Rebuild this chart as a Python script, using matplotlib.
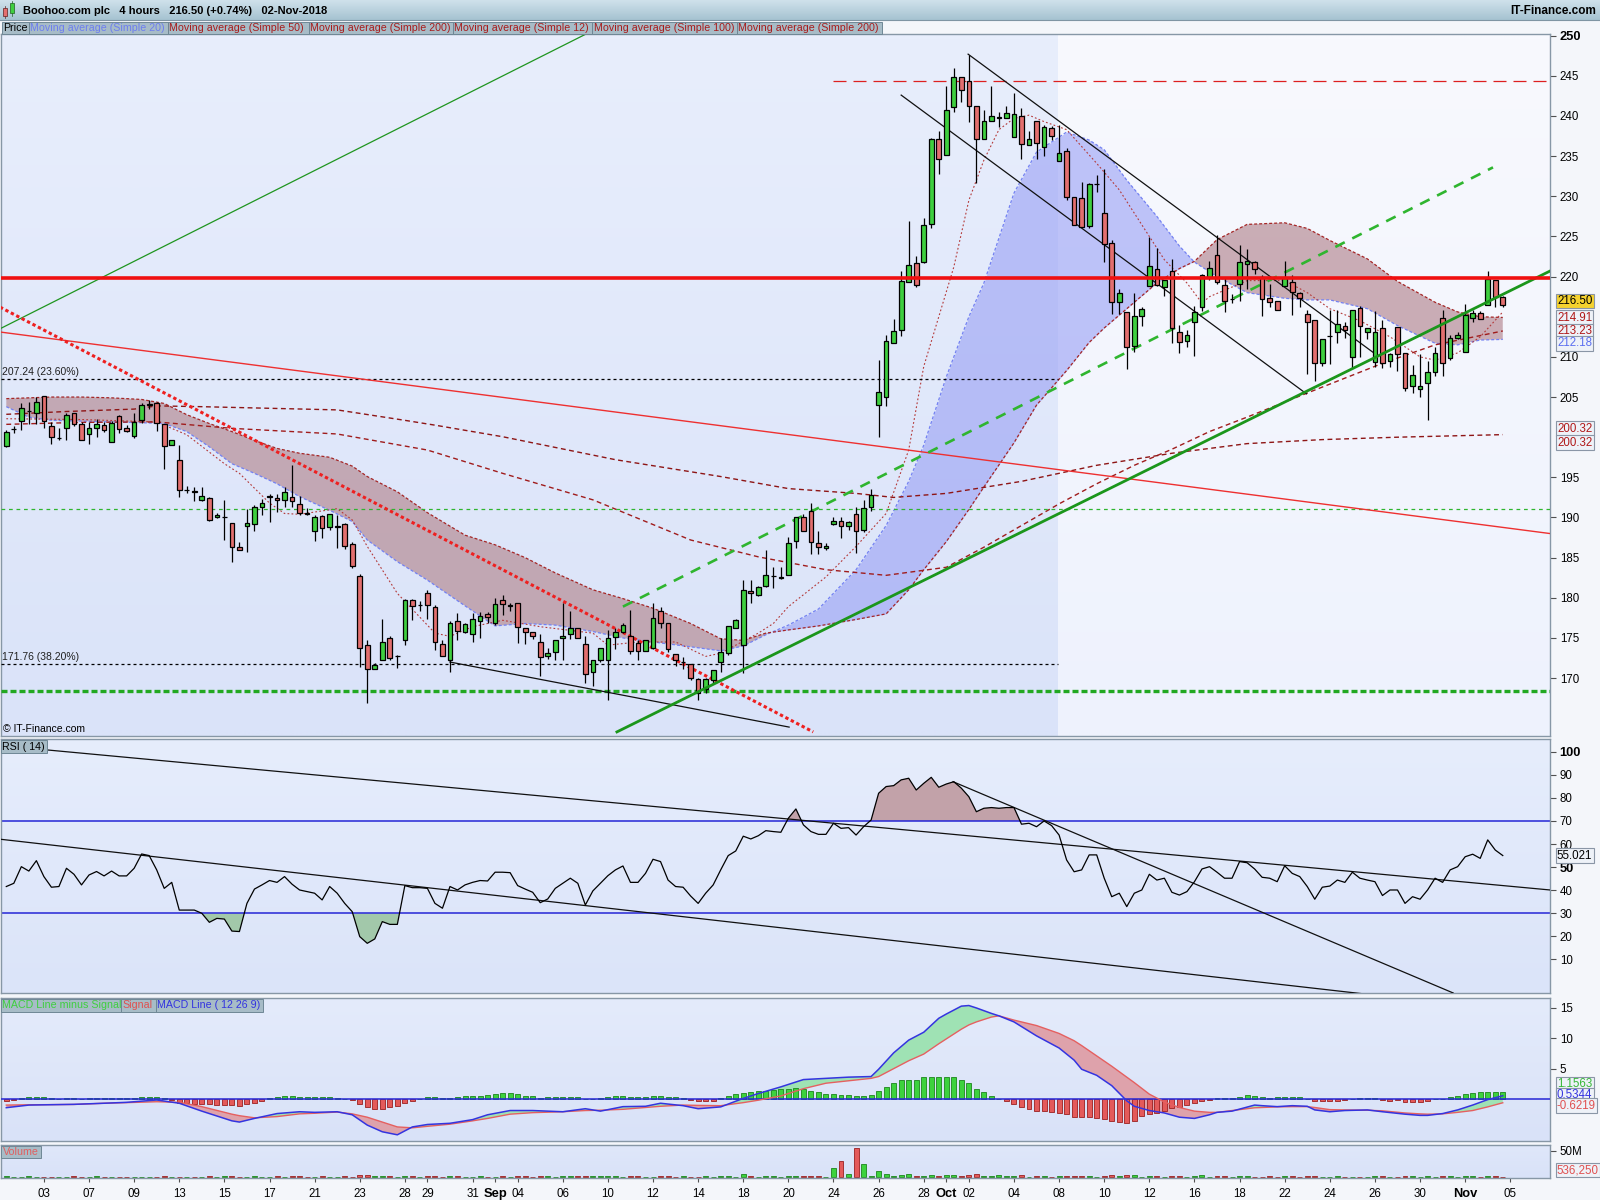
import numpy as np
import matplotlib
matplotlib.use('Agg')
import matplotlib.pyplot as plt
from matplotlib import font_manager
from matplotlib.colors import to_rgb
from matplotlib.patches import Rectangle
from matplotlib.transforms import blended_transform_factory

plt.rcParams['font.family'] = ['Liberation Sans', 'DejaVu Sans']
installed = {f.name for f in font_manager.fontManager.ttflist}
NARROW = 'Liberation Sans Narrow' if 'Liberation Sans Narrow' in installed else 'Liberation Sans'
NUM_SIZE = 9.5 if NARROW == 'Liberation Sans Narrow' else 8.3

# Boohoo.com plc, 4-hour candles from 1 Aug 2018 12:00 to 2 Nov 2018 16:00
opens = [198.9, 201.0, 202.05, 203.2, 203.05, 205.1, 201.4, 199.9, 201.1, 203.0,
         201.7, 200.4, 201.2, 201.5, 199.4, 202.6, 201.2, 200.1, 202.1, 204.0,
         204.3, 201.6, 199.0, 197.2, 193.4, 193.3, 192.2, 192.4, 190.0, 190.0,
         189.35, 186.3, 189.0, 189.2, 191.35, 192.6, 192.4, 192.2, 192.6, 191.7,
         190.6, 188.35, 190.2, 188.8, 188.85, 189.2, 186.7, 182.7, 174.1, 171.1,
         172.2, 174.95, 172.75, 174.8, 179.7, 179.1, 180.55, 178.8, 174.25, 172.3,
         177.15, 175.8, 175.5, 177.1, 178.0, 176.8, 179.7, 179.0, 179.4, 176.2,
         175.8, 174.5, 172.8, 173.2, 175.0, 175.45, 176.2, 174.2, 170.7, 172.2,
         172.3, 175.1, 175.8, 175.2, 174.4, 173.4, 173.7, 178.3, 176.9, 173.0,
         172.0, 171.7, 169.85, 168.6, 169.8, 172.0, 173.1, 176.3, 174.1, 180.85,
         180.4, 181.5, 182.7, 182.5, 182.9, 187.1, 190.1, 190.85, 186.8, 186.2,
         189.15, 189.6, 188.9, 190.4, 188.4, 191.3, 204.0, 205.05, 211.7, 213.4,
         219.3, 221.65, 221.86, 226.5, 237.1, 235.15, 241.1, 244.9, 244.3, 241.3,
         237.1, 239.38, 239.8, 239.8, 237.35, 240.04, 236.4, 239.4, 236.1, 238.5,
         234.4, 235.6, 229.9, 229.75, 226.3, 231.5, 227.96, 224.2, 216.8, 215.55,
         211.4, 215.1, 218.83, 220.9, 218.75, 220.7, 213.14, 212.0, 214.4, 216.17,
         220.0, 222.7, 219.0, 217.2, 219.04, 221.53, 221.86, 219.9, 217.3, 217.0,
         218.8, 219.37, 217.9, 215.4, 214.6, 209.3, 212.6, 213.1, 213.8, 209.95,
         216.05, 213.15, 209.33, 213.56, 209.5, 213.77, 210.45, 206.38, 206.0, 206.7,
         208.16, 214.8, 209.82, 212.3, 210.65, 214.8, 215.43, 216.46, 219.58, 217.42]
highs = [200.9, 201.4, 204.3, 204.4, 205.0, 205.1, 201.9, 201.1, 203.0, 203.05,
         201.9, 201.9, 202.3, 201.9, 202.0, 202.8, 201.5, 203.0, 204.2, 204.6,
         204.4, 201.7, 199.7, 199.0, 193.95, 193.8, 193.8, 192.5, 190.5, 192.2,
         189.35, 186.9, 191.0, 191.55, 192.25, 192.9, 192.9, 193.75, 196.5, 192.7,
         191.2, 190.3, 190.3, 190.4, 190.3, 189.35, 187.0, 183.0, 174.7, 171.9,
         177.3, 175.2, 172.9, 179.8, 179.8, 179.6, 181.0, 179.1, 174.7, 177.15,
         178.15, 176.9, 178.15, 178.25, 178.25, 180.0, 180.35, 179.3, 179.4, 176.2,
         175.8, 175.5, 173.8, 174.7, 179.4, 178.35, 176.2, 175.3, 172.3, 173.7,
         176.0, 176.2, 176.8, 178.5, 174.75, 174.7, 179.4, 178.9, 176.9, 173.0,
         172.6, 171.7, 170.0, 170.0, 171.0, 174.95, 176.5, 177.3, 182.2, 182.2,
         181.5, 185.9, 183.8, 183.8, 187.6, 190.1, 190.4, 191.8, 188.3, 186.8,
         190.1, 190.0, 189.6, 191.35, 192.2, 193.5, 209.6, 212.7, 214.68, 220.7,
         226.9, 222.6, 227.26, 237.2, 238.1, 243.7, 245.94, 244.9, 247.6, 241.3,
         240.7, 243.7, 240.5, 241.25, 242.9, 240.96, 238.1, 239.4, 238.9, 238.7,
         238.9, 235.97, 229.9, 231.8, 231.6, 232.65, 233.36, 224.56, 218.5, 215.55,
         217.9, 216.17, 224.9, 223.5, 219.6, 222.15, 213.97, 213.35, 216.3, 220.3,
         222.0, 225.2, 219.8, 217.8, 223.94, 223.4, 221.98, 220.2, 219.1, 217.0,
         221.9, 220.2, 218.1, 215.9, 214.6, 212.2, 215.9, 215.9, 214.4, 215.84,
         216.34, 213.56, 215.76, 214.6, 210.5, 213.77, 210.45, 209.0, 210.36, 209.5,
         211.2, 215.9, 212.73, 213.15, 216.6, 215.84, 215.76, 220.7, 219.58, 217.6]
lows = [198.8, 200.5, 200.9, 201.6, 201.7, 201.1, 199.2, 199.7, 199.7, 201.4,
        199.6, 199.2, 200.0, 200.6, 199.4, 200.5, 200.6, 199.9, 201.8, 203.5,
        200.8, 196.0, 199.0, 192.5, 193.1, 192.0, 192.0, 189.6, 189.9, 187.2,
        184.5, 185.9, 185.7, 188.35, 190.3, 189.5, 190.7, 191.35, 191.35, 190.3,
        190.3, 187.1, 187.4, 188.4, 186.2, 186.1, 183.7, 171.4, 166.85, 171.1,
        172.2, 172.25, 171.3, 174.1, 177.2, 178.4, 177.4, 173.5, 172.7, 170.8,
        174.8, 175.65, 174.5, 174.95, 176.8, 176.6, 177.9, 178.3, 174.4, 174.3,
        174.9, 170.3, 172.4, 172.3, 172.3, 174.9, 174.95, 169.4, 169.0, 172.05,
        167.3, 173.6, 175.6, 173.0, 172.3, 173.4, 173.6, 176.2, 173.2, 171.5,
        171.1, 169.8, 167.3, 168.2, 169.4, 170.8, 172.9, 176.3, 170.6, 179.4,
        180.2, 181.4, 181.2, 182.3, 182.9, 186.2, 188.3, 185.4, 185.4, 185.95,
        189.1, 187.5, 188.4, 185.6, 188.2, 190.85, 200.0, 203.9, 211.7, 212.6,
        219.3, 218.7, 221.65, 226.1, 232.8, 235.1, 240.5, 241.7, 239.2, 231.6,
        237.1, 239.38, 238.6, 239.8, 237.35, 234.6, 236.4, 234.7, 235.0, 237.0,
        234.4, 229.5, 226.4, 226.2, 226.0, 230.5, 221.86, 215.4, 215.4, 208.45,
        210.65, 213.85, 218.83, 218.8, 217.6, 211.77, 210.5, 211.27, 210.1, 215.76,
        219.6, 219.08, 215.6, 216.7, 217.0, 218.5, 220.3, 215.1, 216.2, 215.9,
        218.8, 215.2, 216.2, 207.9, 207.04, 208.9, 209.1, 211.7, 212.4, 208.5,
        210.03, 212.2, 208.7, 208.6, 208.7, 208.2, 205.8, 205.55, 205.05, 202.2,
        207.6, 207.6, 209.6, 212.2, 210.65, 214.4, 214.7, 216.46, 216.17, 216.26]
closes = [200.7, 201.05, 203.6, 203.3, 204.4, 202.0, 200.0, 199.95, 202.8, 201.6,
          199.7, 201.2, 201.6, 200.9, 201.8, 201.0, 200.8, 201.85, 204.0, 204.1,
          201.8, 198.9, 199.7, 193.4, 193.45, 193.2, 192.7, 189.7, 190.3, 190.05,
          186.3, 185.9, 189.3, 191.35, 191.75, 192.65, 192.2, 193.2, 192.0, 190.6,
          190.4, 190.1, 188.65, 190.4, 188.9, 186.4, 184.0, 173.7, 171.1, 171.6,
          174.5, 172.45, 172.8, 179.7, 178.97, 179.15, 179.1, 174.5, 172.75, 176.9,
          175.9, 176.7, 177.3, 177.7, 177.65, 179.2, 179.2, 179.05, 176.4, 175.8,
          175.2, 172.6, 173.1, 174.7, 175.2, 176.2, 174.95, 170.5, 172.3, 173.7,
          174.95, 175.8, 176.6, 173.4, 173.4, 174.7, 177.45, 176.9, 173.6, 172.25,
          172.05, 170.0, 168.2, 169.85, 171.0, 173.3, 176.5, 177.2, 181.0, 180.55,
          181.3, 182.8, 182.75, 182.6, 186.8, 190.1, 188.3, 186.9, 186.3, 186.45,
          189.6, 188.9, 189.4, 188.3, 191.15, 192.8, 205.6, 211.98, 213.2, 219.45,
          221.45, 218.95, 226.4, 237.1, 234.6, 240.7, 244.8, 243.2, 241.25, 237.1,
          239.38, 240.04, 239.85, 240.33, 240.2, 236.5, 237.1, 236.6, 238.6, 237.5,
          235.35, 229.96, 226.4, 226.2, 231.5, 231.55, 224.0, 216.8, 217.9, 211.2,
          215.1, 215.96, 221.36, 218.95, 219.6, 213.56, 211.8, 212.7, 215.64, 220.2,
          221.03, 219.37, 217.0, 217.25, 221.86, 221.9, 220.9, 217.17, 216.8, 215.9,
          219.8, 218.12, 217.3, 214.3, 209.3, 212.2, 212.65, 214.1, 213.3, 215.84,
          213.9, 213.56, 213.15, 209.2, 210.3, 210.3, 206.1, 207.75, 206.38, 208.16,
          210.45, 209.2, 212.3, 212.73, 215.22, 215.43, 214.7, 219.7, 217.42, 216.5]

# volume in millions of shares
volume = [3.0, 0.5, 0.5, 3.0, 0.5, 0.5, 0.5, 0.5, 0.5, 3.0,
          0.5, 0.5, 3.0, 0.5, 0.5, 0.5, 0.5, 0.5, 0.5, 0.5,
          0.5, 3.0, 0.5, 0.5, 0.5, 0.5, 0.5, 3.0, 0.5, 3.0,
          3.0, 0.5, 0.5, 3.0, 0.5, 0.5, 3.0, 0.5, 3.0, 3.0,
          0.5, 0.5, 3.0, 0.5, 0.5, 3.0, 0.5, 4.4, 4.4, 3.0,
          3.0, 3.0, 0.5, 3.0, 3.0, 0.5, 3.0, 3.0, 0.5, 3.0,
          3.0, 0.5, 0.5, 3.0, 0.5, 0.5, 3.0, 0.5, 3.0, 3.0,
          0.5, 3.0, 3.0, 0.5, 3.0, 3.0, 3.0, 3.0, 3.0, 3.0,
          3.0, 3.0, 0.5, 3.0, 3.0, 0.5, 0.5, 3.0, 3.0, 0.5,
          3.0, 0.5, 0.5, 3.0, 0.5, 3.0, 3.0, 0.5, 6.3, 3.0,
          0.5, 3.0, 3.0, 0.5, 3.0, 3.0, 3.0, 3.0, 3.0, 0.5,
          17.5, 30.0, 6.3, 56.0, 25.0, 3.0, 11.0, 6.3, 3.0, 4.4,
          6.3, 3.0, 3.1, 4.4, 3.0, 4.4, 4.4, 3.0, 3.5, 6.3,
          3.0, 3.0, 3.5, 3.0, 3.0, 3.5, 0.5, 3.0, 3.0, 0.5,
          3.0, 3.0, 3.0, 3.0, 3.0, 0.5, 3.0, 3.5, 3.0, 3.5,
          3.5, 0.5, 3.0, 3.0, 0.5, 3.0, 3.0, 0.5, 3.0, 3.5,
          0.5, 3.0, 3.0, 0.5, 3.0, 3.0, 0.5, 0.5, 3.0, 0.5,
          3.0, 3.0, 0.5, 3.0, 3.0, 0.5, 0.5, 3.0, 0.5, 0.5,
          0.5, 0.5, 3.0, 3.0, 0.5, 0.5, 3.0, 3.0, 0.5, 3.0,
          0.5, 3.0, 3.0, 0.5, 3.0, 3.0, 0.5, 3.0, 3.0, 0.54]

# moving averages, sampled at candle numbers
band_idx = [0, 3, 6, 10, 14, 18, 21, 24, 27, 30, 33, 36, 39, 43, 46, 48, 52, 56, 61, 65,
            69, 73, 78, 82, 86, 91, 95, 98, 101, 104, 108, 113, 117, 120, 122, 125, 128, 130, 134, 137,
            141, 144, 146, 149, 153, 156, 158, 161, 165, 170, 173, 176, 181, 185, 190, 193, 196, 199]
ma20 = [203.8, 202.5, 202.1, 202.0, 201.9, 201.8, 201.7, 200.7, 198.8, 196.7,
        195.5, 194.2, 192.6, 190.9, 189.5, 187.2, 184.5, 182.2, 179.0, 176.5,
        176.8, 176.6, 175.8, 175.0, 174.5, 173.9, 173.4, 174.0, 175.4, 176.6,
        178.6, 183.5, 189.0, 194.5, 199.0, 207.5, 215.0, 219.2, 230.4, 235.5,
        238.0, 237.0, 235.8, 232.0, 227.5, 223.8, 221.8, 220.0, 218.0, 217.3,
        217.1, 217.1, 216.0, 213.9, 211.7, 211.5, 212.1, 212.18]
ma50 = [204.8, 204.9, 205.0, 205.0, 204.9, 204.7, 204.2, 202.8, 201.7, 200.7,
        199.6, 198.6, 198.0, 197.5, 196.4, 195.1, 193.2, 190.6, 187.8, 186.6,
        185.0, 183.1, 181.0, 179.9, 178.7, 176.8, 174.9, 174.7, 175.6, 176.0,
        176.5, 177.3, 178.0, 181.0, 183.5, 187.0, 191.0, 193.8, 199.3, 204.0,
        208.3, 211.8, 213.6, 216.0, 219.2, 221.0, 221.9, 224.6, 226.5, 226.7,
        226.0, 224.5, 222.2, 219.4, 216.8, 215.6, 215.0, 214.91]

ma12_idx = [0, 10, 20, 24, 29, 31, 35, 37, 39, 44, 46, 48, 52, 57, 59, 62, 66, 71, 78, 80,
            84, 89, 93, 95, 100, 102, 104, 109, 113, 117, 120, 122, 126, 128, 130, 132, 134, 136, 138, 141,
            143, 145, 148, 150, 152, 154, 157, 159, 160, 165, 170, 173, 176, 180, 184, 188, 190, 193, 196, 199]
ma12 = [202.3, 202.2, 201.9, 200.3, 196.7, 195.5, 191.8, 190.5, 190.4, 191.1,
        189.7, 186.4, 180.55, 175.6, 175.2, 176.4, 177.2, 176.4, 175.6, 174.1,
        174.5, 174.5, 172.7, 173.1, 175.6, 176.8, 178.9, 182.6, 186.4, 190.5,
        198.4, 208.8, 221.2, 229.5, 234.5, 238.3, 239.7, 240.1, 239.3, 238.3,
        236.2, 234.1, 230.8, 227.9, 225.0, 222.1, 219.2, 216.7, 217.5, 219.5,
        219.5, 218.0, 216.0, 214.5, 212.5, 210.0, 209.6, 210.5, 212.5, 215.6]

ma100_idx = [0, 10, 20, 30, 44, 56, 66, 78, 91, 100, 109, 117, 125, 130, 135, 140, 145, 150, 155, 160,
             165, 173, 183, 190, 199]
ma100 = [201.6, 201.85, 201.9, 201.1, 200.4, 198.4, 195.5, 192.2, 187.2, 185.1,
         183.5, 182.8, 183.8, 186.3, 189.0, 191.7, 194.2, 196.5, 198.5, 200.7,
         202.5, 205.5, 209.2, 211.5, 213.23]

ma200_idx = [0, 8, 17, 20, 26, 44, 53, 57, 66, 81, 95, 104, 113, 118, 125, 135, 145, 155, 165, 175,
             185, 199]
ma200 = [202.85, 203.2, 203.5, 203.9, 203.8, 203.4, 202.1, 201.5, 200.06, 197.2,
         195.1, 193.6, 193.0, 192.5, 193.0, 194.5, 196.5, 198.0, 199.2, 199.7,
         200.0, 200.32]

# RSI(14), one value per candle
rsi = [41.6, 43.0, 50.2, 48.3, 52.8, 45.9, 41.3, 41.6, 49.5, 46.9,
       42.3, 46.6, 48.1, 46.2, 48.3, 46.2, 46.2, 49.5, 55.7, 55.0,
       48.8, 40.8, 43.4, 31.4, 31.4, 31.4, 30.0, 26.1, 27.8, 27.5,
       22.3, 22.1, 34.3, 40.5, 42.3, 44.2, 43.4, 45.9, 42.6, 40.1,
       39.4, 38.7, 35.8, 41.6, 38.7, 34.3, 30.7, 19.9, 17.0, 18.9,
       26.4, 25.2, 25.2, 42.0, 41.1, 41.1, 40.8, 34.3, 32.2, 41.6,
       40.1, 42.3, 43.4, 44.2, 44.0, 47.8, 47.8, 47.6, 42.0, 40.5,
       39.1, 34.6, 36.2, 40.8, 43.0, 45.2, 43.0, 33.6, 39.7, 43.0,
       46.3, 48.8, 50.5, 43.4, 43.4, 47.3, 53.4, 52.4, 44.4, 41.6,
       41.3, 37.5, 34.3, 38.7, 42.3, 48.8, 55.0, 57.0, 63.4, 62.2,
       63.6, 65.8, 65.4, 65.1, 71.2, 75.2, 68.3, 65.4, 64.2, 64.2,
       69.0, 66.8, 67.1, 63.9, 67.5, 70.4, 82.0, 84.9, 85.3, 87.8,
       88.5, 83.4, 86.3, 88.9, 84.6, 86.0, 87.0, 84.2, 80.5, 74.0,
       75.5, 75.8, 75.5, 75.8, 75.8, 68.6, 69.0, 67.5, 70.0, 68.0,
       63.9, 53.1, 48.0, 48.8, 55.3, 55.3, 45.2, 37.2, 38.7, 32.9,
       38.7, 40.1, 46.9, 44.4, 45.2, 39.1, 37.9, 39.4, 43.7, 49.2,
       50.2, 47.8, 45.2, 45.2, 52.4, 51.9, 49.2, 45.6, 45.2, 43.7,
       50.6, 47.3, 45.9, 41.6, 36.1, 41.3, 41.8, 44.4, 43.4, 47.8,
       45.2, 44.4, 43.7, 37.7, 40.1, 40.1, 34.3, 37.2, 36.1, 40.1,
       45.2, 43.4, 48.8, 50.2, 54.5, 55.6, 53.8, 61.8, 57.4, 55.021]

# MACD (12 26 9): line and signal sampled at candle numbers, histogram per candle
macd_idx = [0, 3, 9, 13, 16, 20, 23, 26, 30, 31, 33, 36, 39, 41, 44, 46, 48, 50, 52, 54,
            56, 59, 62, 64, 67, 70, 74, 77, 79, 82, 85, 87, 90, 92, 95, 98, 100, 103, 106, 109,
            112, 115, 116, 118, 120, 122, 124, 125, 127, 128, 129, 131, 132, 134, 137, 140, 142, 143, 145, 147,
            149, 150, 152, 154, 156, 158, 160, 161, 163, 166, 167, 169, 171, 173, 174, 176, 178, 181, 183, 186,
            188, 189, 191, 193, 195, 197, 199]
macd_line = [-1.43, -1.0, -0.88, -0.7, -0.55, -0.16, -0.7, -2.0, -3.6, -3.8,
             -3.2, -2.4, -2.1, -2.2, -2.1, -2.6, -4.3, -5.4, -5.9, -4.6,
             -4.2, -4.0, -3.4, -2.6, -1.9, -1.9, -2.1, -1.6, -2.0, -1.26,
             -1.2, -0.7, -1.1, -1.6, -1.3, 0.1, 0.9, 2.0, 3.2, 3.4,
             3.6, 3.7, 4.9, 7.6, 9.7, 11.0, 13.3, 14.0, 15.3, 15.4,
             15.0, 14.1, 13.7, 12.7, 10.4, 8.4, 6.4, 4.9, 3.9, 2.2,
             -0.3, -1.2, -1.9, -2.3, -3.0, -3.2, -2.6, -2.2, -2.0, -1.0,
             -1.1, -1.26, -1.1, -1.2, -1.8, -2.1, -1.9, -1.8, -2.1, -2.5,
             -2.7, -2.7, -2.4, -1.8, -1.0, -0.1, 0.5344]
macd_signal = [-1.0, -0.95, -0.9, -0.7, -0.6, -0.45, -0.55, -1.26, -2.5, -2.75,
               -3.1, -2.9, -2.45, -2.35, -2.15, -2.45, -3.0, -3.8, -4.6, -4.75,
               -4.5, -4.15, -3.6, -3.2, -2.5, -2.25, -2.1, -1.9, -1.85, -1.7,
               -1.4, -1.2, -1.0, -1.05, -1.1, -0.6, -0.2, 0.5, 1.7, 2.6,
               3.0, 3.4, 3.7, 5.0, 6.3, 7.4, 9.1, 9.9, 11.5, 12.2,
               12.7, 13.5, 13.7, 13.0, 12.1, 10.8, 9.6, 8.8, 7.1, 5.4,
               3.6, 2.7, 0.8, -0.5, -1.4, -2.0, -2.2, -2.2, -1.9, -1.45,
               -1.4, -1.3, -1.26, -1.26, -1.4, -1.75, -1.8, -1.85, -1.95, -2.3,
               -2.45, -2.5, -2.45, -2.2, -1.9, -1.3, -0.6219]
macd_hist = [-0.3, -0.2, 0.1, 0.3, 0.35, 0.3, 0.15, 0.05, 0.15, 0.15,
             0.05, 0.15, 0.15, 0.15, 0.15, 0.15, 0.15, 0.2, 0.4, 0.4,
             0.25, 0.1, -0.15, -0.6, -0.7, -0.8, -0.9, -0.9, -1.0, -1.0,
             -1.0, -1.1, -0.8, -0.6, -0.3, 0.1, 0.3, 0.45, 0.45, 0.35,
             0.3, 0.3, 0.3, 0.25, 0.2, 0.05, -0.2, -0.8, -1.3, -1.6,
             -1.6, -1.4, -1.2, -0.7, -0.25, 0.0, 0.3, 0.25, 0.15, 0.2,
             0.3, 0.45, 0.5, 0.55, 0.6, 0.8, 1.0, 1.05, 0.8, 0.55,
             0.45, 0.2, 0.25, 0.25, 0.3, 0.3, 0.3, 0.0, 0.05, 0.2,
             0.35, 0.45, 0.45, 0.4, 0.35, 0.35, 0.5, 0.5, 0.4, 0.3,
             0.1, -0.2, -0.3, -0.3, -0.3, 0.1, 0.5, 0.8, 1.0, 1.1,
             1.3, 1.4, 1.5, 1.6, 1.7, 1.8, 1.6, 1.3, 1.1, 0.8,
             0.8, 0.7, 0.6, 0.55, 0.55, 0.6, 1.3, 2.0, 2.6, 3.1,
             3.1, 3.1, 3.6, 3.6, 3.6, 3.6, 3.6, 3.2, 2.6, 1.7,
             1.2, 0.5, 0.0, -0.3, -0.8, -1.4, -1.7, -1.9, -2.0, -2.1,
             -2.3, -2.5, -3.0, -3.0, -3.0, -3.1, -3.3, -3.7, -3.8, -3.9,
             -3.7, -2.8, -2.5, -2.3, -2.0, -1.5, -1.3, -1.0, -0.7, -0.4,
             -0.1, 0.2, 0.2, 0.2, 0.4, 0.6, 0.5, 0.3, 0.15, 0.25,
             0.3, 0.3, 0.3, 0.0, -0.4, -0.4, -0.4, -0.3, -0.15, 0.0,
             0.15, 0.15, 0.1, -0.2, -0.25, -0.2, -0.45, -0.45, -0.45, -0.3,
             0.0, 0.0, 0.35, 0.55, 0.8, 1.0, 1.1, 1.2, 1.2, 1.1563]

# date axis: trading-day number (0 = 1 Aug) of each label
date_labels = ['03', '07', '09', '13', '15', '17', '21', '23', '28', '29', '31', 'Sep',
               '04', '06', '10', '12', '14', '18', '20', '24', '26', '28', 'Oct', '02',
               '04', '08', '10', '12', '16', '18', '22', '24', '26', '30', 'Nov', '05']
date_days = [2, 4, 6, 8, 10, 12, 14, 16, 18, 19, 21, 22,
             23, 25, 27, 29, 31, 33, 35, 37, 39, 41, 42, 43,
             45, 47, 49, 51, 53, 55, 57, 59, 61, 63, 65, 67]

# drawn levels and trend lines (candle number, price)
resistance = 219.8
old_high = 244.4
fib_levels = [(207.24, '207.24 (23.60%)'), (171.76, '171.76 (38.20%)')]
green_levels = [191.1, 168.4]
shade_end = 139.85
green_thin = [(-0.84, 213.5), (77.5, 250.4)]
red_thin = [(-0.84, 213.1), (205.3, 188.0)]
red_dotted = [(-0.84, 216.2), (107.3, 163.3)]
green_support = [(81.2, 163.3), (205.3, 220.7)]
green_dashed = [(82.0, 178.9), (197.7, 233.6)]
black_lines = [[(59.0, 172.0), (104.1, 163.9)],
               [(127.9, 247.7), (181.7, 210.6)],
               [(119.0, 242.6), (172.9, 205.4)]]
rsi_lines = [[(5.3, 100.8), (205.3, 40.1)],
             [(-0.84, 62.1), (180.1, -4.75)],
             [(125.9, 87.0), (192.4, -4.5)]]

W, H = 1600, 1200
fig = plt.figure(figsize=(W / 100, H / 100), dpi=100, facecolor='#f4f6fa')


def px_rect(x0, y0, x1, y1):
    # pixel box measured from the top-left corner -> figure fraction
    return [x0 / W, 1 - y1 / H, (x1 - x0) / W, (y1 - y0) / H]


def gradient(ax, top, bottom, x0=0.0, x1=1.0):
    t = np.linspace(0, 1, 64)[:, None, None]
    img = np.array(to_rgb(top)) * (1 - t) + np.array(to_rgb(bottom)) * t
    img = np.repeat(img, 2, axis=1)
    ax.imshow(img, extent=(x0, x1, 0, 1), transform=ax.transAxes,
              aspect='auto', zorder=0, interpolation='bilinear')


def seg(ax, pts, **kw):
    (xa, ya), (xb, yb) = pts
    ax.plot([xa, xb], [ya, yb], **kw)


def tag(ax, yv, txt, col, fc='#eef2f8'):
    tr = blended_transform_factory(ax.transAxes, ax.transData)
    ax.text(1.0045, yv, txt, transform=tr, fontsize=NUM_SIZE, family=NARROW, color=col,
            va='center', ha='left', clip_on=False, zorder=20,
            bbox=dict(boxstyle='square,pad=0.12', fc=fc, ec='#8a96a6', lw=0.8))


def style_ticks(ax, bold=()):
    for lab in ax.get_yticklabels() + ax.get_xticklabels():
        lab.set_family(NARROW)
        lab.set_fontsize(NUM_SIZE)
        if lab.get_text() in bold:
            lab.set_fontweight('bold')
            lab.set_fontsize(NUM_SIZE + 1)


ax_p = fig.add_axes(px_rect(1, 34, 1550, 736))
ax_r = fig.add_axes(px_rect(1, 739, 1550, 993))
ax_m = fig.add_axes(px_rect(1, 998, 1550, 1141))
ax_v = fig.add_axes(px_rect(1, 1145, 1550, 1178))

n = len(closes)
idx = np.arange(n)
o = np.array(opens)
h = np.array(highs)
l = np.array(lows)
c = np.array(closes)
up = c >= o
XL = (-0.705, 205.28)

for ax in (ax_p, ax_r, ax_m, ax_v):
    ax.set_facecolor('none')
    for s in ax.spines.values():
        s.set_color('#8797a6')
        s.set_linewidth(1.0)
    ax.yaxis.tick_right()
    ax.tick_params(axis='y', direction='out', length=4, width=0.8, color='#505050', pad=3)
    ax.tick_params(axis='x', bottom=False, labelbottom=False)

# ---- price panel ----
frac = (shade_end - XL[0]) / (XL[1] - XL[0])
gradient(ax_p, '#e8eefc', '#dae3f9', 0, frac)
gradient(ax_p, '#f8f9fe', '#eef2fd', frac, 1)

i20 = np.array(band_idx)
m20 = np.array(ma20)
m50 = np.array(ma50)
ax_p.fill_between(i20, m20, m50, where=m50 >= m20, interpolate=True,
                  color='#b58a93', alpha=0.68, lw=0, zorder=1.5)
ax_p.fill_between(i20, m20, m50, where=m50 < m20, interpolate=True,
                  color='#9ba2f5', alpha=0.62, lw=0, zorder=1.5)
ax_p.plot(i20, m20, color='#7381f2', lw=0.9, ls=(0, (2.4, 1.6)), zorder=2)
ax_p.plot(i20, m50, color='#a52626', lw=0.9, ls=(0, (2.4, 1.6)), zorder=2)
ax_p.plot(ma12_idx, ma12, color='#b43a3a', lw=0.8, ls=(0, (1.6, 2.0)), zorder=2)
ax_p.plot(ma100_idx, ma100, color='#a01c1c', lw=1.0, ls=(0, (3.5, 2.5)), zorder=2)
ax_p.plot(ma200_idx, ma200, color='#8e1515', lw=1.0, ls=(0, (3.5, 2.5)), zorder=2)

for lvl, txt in fib_levels:
    ax_p.plot([XL[0], shade_end], [lvl, lvl], color='black', lw=0.9,
              ls=(0, (2.4, 2.4)), zorder=3)
    ax_p.text(XL[0] + 0.15, lvl + 0.2, txt, fontsize=7.5, va='bottom', ha='left',
              color='#202020', zorder=3)
ax_p.axhline(green_levels[0], color='#2fb52f', lw=0.9, ls=(0, (3, 3)), zorder=3)
ax_p.axhline(green_levels[1], color='#22a822', lw=2.4, ls=(0, (1.8, 0.9)), zorder=3)
ax_p.plot([109.9, XL[1]], [old_high, old_high], color='#dd2020', lw=0.9,
          ls=(0, (10.4, 5.6)), zorder=3)

seg(ax_p, green_thin, color='#1f951f', lw=0.9, zorder=3)
seg(ax_p, red_thin, color='#ee3030', lw=1.0, zorder=3)
seg(ax_p, red_dotted, color='#ee2020', lw=2.2, ls=(0, (1.1, 0.9)), zorder=3)
seg(ax_p, green_dashed, color='#2fb52f', lw=1.9, ls=(0, (4, 3.2)), zorder=3)
for pts in black_lines:
    seg(ax_p, pts, color='#101010', lw=0.9, zorder=3)

# candles
ax_p.vlines(idx, l, h, color='black', lw=0.9, zorder=5)
body = np.maximum(np.abs(c - o), 0.06)
ax_p.bar(idx, body, bottom=np.minimum(o, c), width=0.62,
         color=np.where(up, '#3fcf3f', '#e36f6f'), edgecolor='black',
         linewidth=0.9, zorder=6)

seg(ax_p, green_support, color='#1b961b', lw=2.0, zorder=7)
ax_p.axhline(resistance, color='#f01010', lw=2.6, zorder=7)

ax_p.set_xlim(*XL)
ax_p.set_ylim(162.79, 250.21)
pticks = [t for t in range(170, 251, 5) if t not in (200, 215)]
ax_p.set_yticks(pticks)
ax_p.set_yticklabels([str(t) for t in pticks])
style_ticks(ax_p, bold=('250',))

tag(ax_p, 216.97, '216.50', 'black', '#f5d22e')
tag(ax_p, 214.90, '214.91', '#b01818')
tag(ax_p, 213.23, '213.23', '#b01818')
tag(ax_p, 211.70, '212.18', '#5a6ef0')
tag(ax_p, 201.05, '200.32', '#b01818')
tag(ax_p, 199.30, '200.32', '#b01818')

# ---- RSI panel ----
gradient(ax_r, '#e6edfc', '#dbe4f9')
r = np.array(rsi)
ax_r.fill_between(idx, r, 70, where=r >= 70, interpolate=True, color='#c2a2a9',
                  lw=0, zorder=1.5)
ax_r.fill_between(idx, r, 30, where=r <= 30, interpolate=True, color='#a2c8aa',
                  lw=0, zorder=1.5)
ax_r.axhline(70, color='#2626d6', lw=1.1, zorder=2)
ax_r.axhline(30, color='#2626d6', lw=1.1, zorder=2)
for pts in rsi_lines:
    seg(ax_r, pts, color='#101010', lw=0.9, zorder=3)
ax_r.plot(idx, r, color='black', lw=0.9, zorder=4)
ax_r.set_xlim(*XL)
ax_r.set_ylim(-4.52, 105.5)
ax_r.set_yticks(range(10, 101, 10))
ax_r.set_yticklabels([str(t) for t in range(10, 101, 10)])
style_ticks(ax_r, bold=('50', '100'))
tag(ax_r, rsi[-1], '55.021', 'black')

# ---- MACD panel ----
gradient(ax_m, '#e4ebfb', '#d9e2f8')
mi = np.array(macd_idx)
ml = np.array(macd_line)
ms = np.array(macd_signal)
ax_m.fill_between(mi, ml, ms, where=ml >= ms, interpolate=True, color='#9fe2b4',
                  lw=0, zorder=1.5)
ax_m.fill_between(mi, ml, ms, where=ml < ms, interpolate=True, color='#dea2ab',
                  lw=0, zorder=1.5)
hist = np.array(macd_hist)
ax_m.bar(idx, hist, width=0.66, color=np.where(hist >= 0, '#3dd23d', '#e45a5a'),
         edgecolor=np.where(hist >= 0, '#1c861c', '#9a2020'), linewidth=0.6, zorder=2)
ax_m.axhline(0, color='#2626d6', lw=1.1, zorder=3)
ax_m.plot(mi, ms, color='#e56060', lw=1.0, zorder=4)
ax_m.plot(mi, ml, color='#3434e0', lw=1.1, zorder=5)
ax_m.set_xlim(*XL)
ax_m.set_ylim(-6.92, 16.64)
ax_m.set_yticks([5, 10, 15])
ax_m.set_yticklabels(['5', '10', '15'])
style_ticks(ax_m)
tag(ax_m, 2.45, '1.1563', '#36b836')
tag(ax_m, 0.6, '0.5344', '#3434e0')
tag(ax_m, -1.1, '-0.6219', '#e05050')

# ---- volume panel ----
gradient(ax_v, '#dfe7fa', '#d9e2f8')
ax_v.bar(idx, volume, width=0.66, color=np.where(up, '#3dd23d', '#e45a5a'),
         edgecolor=np.where(up, '#1c861c', '#9a2020'), linewidth=0.6, zorder=2)
ax_v.set_xlim(*XL)
ax_v.set_ylim(-1.3, 60.7)
ax_v.set_yticks([50])
ax_v.set_yticklabels(['50M'])
tag(ax_v, 13.7, '536,250', '#e05050')

ax_v.tick_params(axis='x', bottom=True, labelbottom=True, direction='out', length=3,
                 width=0.8, color='#505050', pad=4)
ax_v.set_xticks([3 * d - 1 for d in date_days])
ax_v.set_xticklabels(date_labels)
style_ticks(ax_v, bold=('Sep', 'Oct', 'Nov'))

# ---- header, legend strip and panel captions (pixel coordinates) ----
ov = fig.add_axes([0, 0, 1, 1], zorder=10)
ov.set_xlim(0, W)
ov.set_ylim(H, 0)
ov.axis('off')
ov.patch.set_alpha(0)

t = np.linspace(0, 1, 32)[:, None, None]
bar_img = np.array(to_rgb('#cfe1eb')) * (1 - t) + np.array(to_rgb('#a6c3d1')) * t
ov.imshow(np.repeat(bar_img, 2, axis=1), extent=(0, W, 20, 0), aspect='auto',
          interpolation='bilinear', zorder=1)
ov.plot([0, W], [20, 20], color='#7f95a3', lw=0.8, zorder=2)
# little candle icon
ov.add_patch(Rectangle((3, 8), 4, 8, fc='#e36f6f', ec='#602020', lw=0.5, zorder=3))
ov.plot([5, 5], [6, 18], color='#602020', lw=0.5, zorder=2)
ov.add_patch(Rectangle((10, 3), 4, 10, fc='#3fcf3f', ec='#206020', lw=0.5, zorder=3))
ov.plot([12, 12], [1, 16], color='#206020', lw=0.5, zorder=2)
ov.text(23, 10.5, 'Boohoo.com plc   4 hours   216.50 (+0.74%)   02-Nov-2018',
        fontsize=8, fontweight='bold', va='center', ha='left', zorder=3)
ov.text(1596, 10.5, 'IT-Finance.com', fontsize=8.5, fontweight='bold', va='center',
        ha='right', zorder=3)

legend_boxes = [('Price', 1.5, 28.7, 'black'),
                ('Moving average (Simple 20)', 28.7, 167.8, '#6d7ef0'),
                ('Moving average (Simple 50)', 167.8, 308.6, '#a81c1c'),
                ('Moving average (Simple 200)', 308.6, 452.9, '#a81c1c'),
                ('Moving average (Simple 12)', 452.9, 592.0, '#a81c1c'),
                ('Moving average (Simple 100)', 592.0, 736.8, '#a81c1c'),
                ('Moving average (Simple 200)', 736.8, 882.0, '#a81c1c')]
for txt, x0, x1, col in legend_boxes:
    ov.add_patch(Rectangle((x0, 21.5), x1 - x0, 12.5, fc='#a7bcc7', ec='#6f8795',
                           lw=0.7, zorder=3))
    ov.text(x0 + 1.5, 28, txt, fontsize=7.7, color=col, va='center', ha='left', zorder=4)

panel_tags = [[('RSI ( 14)', 1, 47, 740, 'black')],
              [('MACD Line minus Signal', 1, 121, 999, '#3fcf3f'),
               ('Signal', 121, 155.6, 999, '#e05050'),
               ('MACD Line ( 12 26 9)', 155.6, 263, 999, '#3434e0')],
              [('Volume', 1, 41, 1145.5, '#e06060')]]
for row in panel_tags:
    for txt, x0, x1, y0, col in row:
        ov.add_patch(Rectangle((x0, y0), x1 - x0, 12.5, fc='#a7bcc7', ec='#6f8795',
                               lw=0.7, zorder=3))
        ov.text(x0 + 1.5, y0 + 6.5, txt, fontsize=7.7, color=col, va='center',
                ha='left', zorder=4)

ov.text(3, 729.5, '\u00a9 IT-Finance.com', fontsize=7.5, va='center', ha='left', zorder=4)

fig.savefig('out.png', dpi=100, facecolor=fig.get_facecolor())
